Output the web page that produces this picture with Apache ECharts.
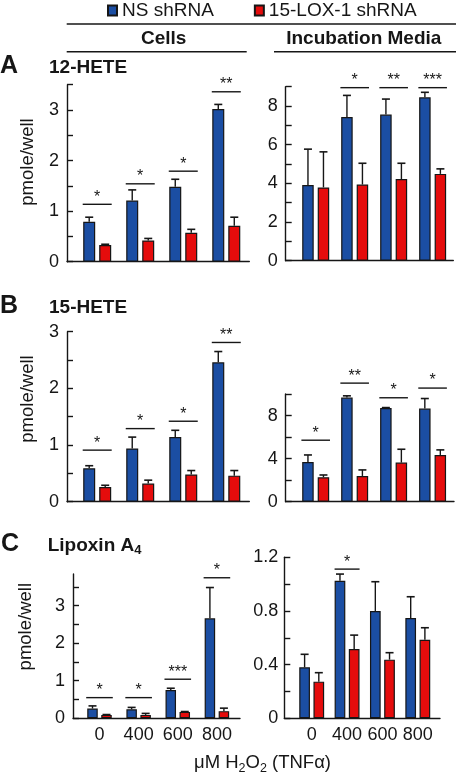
<!DOCTYPE html>
<html><head><meta charset="utf-8">
<script src="https://cdn.jsdelivr.net/npm/echarts@6/dist/echarts.min.js"></script>
<style>html,body{margin:0;padding:0;background:#fff}#c{width:456px;height:774px}</style>
</head><body><div id="c"></div><script>
// ---------------- DATA ----------------
const categories = ['0', '400', '600', '800'];
const seriesNames = ['NS shRNA', '15-LOX-1 shRNA'];

// A: 12-HETE, cells
const hete12CellsNS = [0.79, 1.21, 1.48, 3.02];
const hete12CellsNSErr = [0.09, 0.21, 0.15, 0.09];
const hete12CellsLOX = [0.33, 0.42, 0.57, 0.71];
const hete12CellsLOXErr = [0.015, 0.04, 0.07, 0.17];
const hete12CellsSigY = [1.135, 1.54, 1.79, 3.36];
const hete12CellsSig = ['*', '*', '*', '**'];
// A: 12-HETE, incubation media
const hete12MediaNS = [3.91, 7.43, 7.56, 8.45];
const hete12MediaNSErr = [1.86, 1.12, 0.80, 0.26];
const hete12MediaLOX = [3.79, 3.94, 4.22, 4.49];
const hete12MediaLOXErr = [1.84, 1.10, 0.82, 0.26];
const hete12MediaSigY = [null, 8.95, 8.95, 8.95];
const hete12MediaSig = [null, '*', '**', '***'];

// B: 15-HETE, cells
const hete15CellsNS = [0.59, 0.94, 1.14, 2.46];
const hete15CellsNSErr = [0.045, 0.20, 0.12, 0.19];
const hete15CellsLOX = [0.26, 0.32, 0.48, 0.46];
const hete15CellsLOXErr = [0.03, 0.06, 0.07, 0.09];
const hete15CellsSigY = [0.91, 1.29, 1.42, 2.81];
const hete15CellsSig = ['*', '*', '*', '**'];
// B: 15-HETE, incubation media
const hete15MediaNS = [3.69, 9.67, 8.69, 8.65];
const hete15MediaNSErr = [0.65, 0.16, 0.05, 0.93];
const hete15MediaLOX = [2.27, 2.39, 3.63, 4.34];
const hete15MediaLOXErr = [0.21, 0.56, 1.24, 0.47];
const hete15MediaSigY = [5.71, 11.01, 9.65, 10.55];
const hete15MediaSig = ['*', '**', '*', '*'];

// C: Lipoxin A4, cells
const lxCellsNS = [0.26, 0.24, 0.75, 2.66];
const lxCellsNSErr = [0.07, 0.05, 0.05, 0.82];
const lxCellsLOX = [0.09, 0.09, 0.17, 0.19];
const lxCellsLOXErr = [0.01, 0.04, 0.01, 0.08];
const lxCellsSigY = [0.55, 0.55, 1.04, 3.74];
const lxCellsSig = ['*', '*', '***', '*'];
// C: Lipoxin A4, incubation media
const lxMediaNS = [0.38, 1.025, 0.80, 0.747];
const lxMediaNSErr = [0.097, 0.05, 0.218, 0.159];
const lxMediaLOX = [0.273, 0.516, 0.437, 0.586];
const lxMediaLOXErr = [0.067, 0.104, 0.052, 0.089];
const lxMediaSigY = [null, 1.112, null, null];
const lxMediaSig = [null, '*', null, null];

// tick positions and tick labels
const ticks12Cells = [0, 0.5, 1, 1.5, 2, 2.5, 3, 3.5];
const labels12Cells = [0, 1, 2, 3];
const ticks12Media = [0, 1, 2, 3, 4, 5, 6, 7, 8, 9];
const labels12Media = [0, 2, 4, 6, 8];
const ticks15Cells = [0, 0.5, 1, 1.5, 2, 2.5, 3];
const labels15Cells = [0, 1, 2, 3];
const ticks15Media = [0, 2, 4, 6, 8, 10];
const labels15Media = [0, 4, 8];
const ticksLxCells = [0, 0.5, 1, 1.5, 2, 2.5, 3, 3.5];
const labelsLxCells = [0, 1, 2, 3];
const ticksLxMedia = [0, 0.2, 0.4, 0.6, 0.8, 1.0, 1.2];
const labelsLxMedia = [0, 0.4, 0.8, 1.2];
const categoryIndex = [0, 1, 2, 3];

// ---------------- STYLE / LAYOUT ----------------
const FONT = '"Liberation Sans", Arial, Helvetica, sans-serif';
const INK = '#161616';
const BLUE = '#1b4ea3';
const RED = '#e50c0c';

const panels = [
  {grid: {left: 67, top: 84.7, width: 182.3, height: 177}, xMin: -0.702, xMax: 3.535, yMax: 3.5,
   ticks: ticks12Cells, labels: labels12Cells, barW: 12, gapPx: 4, sigHalf: 14.5, lm: 8, showX: false,
   ns: hete12CellsNS, nsErr: hete12CellsNSErr, lox: hete12CellsLOX, loxErr: hete12CellsLOXErr, sigY: hete12CellsSigY, sig: hete12CellsSig},
  {grid: {left: 285.7, top: 86.7, width: 167.6, height: 174}, xMin: -0.77, xMax: 3.53, yMax: 9,
   ticks: ticks12Media, labels: labels12Media, barW: 11.5, gapPx: 4, sigHalf: 14.3, lm: 8, showX: false,
   ns: hete12MediaNS, nsErr: hete12MediaNSErr, lox: hete12MediaLOX, loxErr: hete12MediaLOXErr, sigY: hete12MediaSigY, sig: hete12MediaSig},
  {grid: {left: 67, top: 331.7, width: 182.3, height: 170}, xMin: -0.702, xMax: 3.535, yMax: 3,
   ticks: ticks15Cells, labels: labels15Cells, barW: 12, gapPx: 4, sigHalf: 14.5, lm: 8, showX: false,
   ns: hete15CellsNS, nsErr: hete15CellsNSErr, lox: hete15CellsLOX, loxErr: hete15CellsLOXErr, sigY: hete15CellsSigY, sig: hete15CellsSig},
  {grid: {left: 285.7, top: 394, width: 168.3, height: 107.7}, xMin: -0.77, xMax: 3.55, yMax: 10,
   ticks: ticks15Media, labels: labels15Media, barW: 11.5, gapPx: 4, sigHalf: 14.3, lm: 8, showX: false,
   ns: hete15MediaNS, nsErr: hete15MediaNSErr, lox: hete15MediaLOX, loxErr: hete15MediaLOXErr, sigY: hete15MediaSigY, sig: hete15MediaSig},
  {grid: {left: 73, top: 574, width: 167, height: 144.3}, xMin: -0.677, xMax: 3.59, yMax: 3.84,
   ticks: ticksLxCells, labels: labelsLxCells, barW: 10.5, gapPx: 3.5, sigHalf: 13.3, lm: 8, showX: true,
   ns: lxCellsNS, nsErr: lxCellsNSErr, lox: lxCellsLOX, loxErr: lxCellsLOXErr, sigY: lxCellsSigY, sig: lxCellsSig},
  {grid: {left: 284.3, top: 557.3, width: 155.7, height: 161}, xMin: -0.775, xMax: 3.628, yMax: 1.2,
   ticks: ticksLxMedia, labels: labelsLxMedia, barW: 10.7, gapPx: 3.5, sigHalf: 12.5, lm: 6, showX: true,
   ns: lxMediaNS, nsErr: lxMediaNSErr, lox: lxMediaLOX, loxErr: lxMediaLOXErr, sigY: lxMediaSigY, sig: lxMediaSig}
];

function errRender(dx) {
  return function (params, api) {
    const i = api.value(0), v = api.value(1), e = api.value(2);
    if (!e) return null;
    const p0 = api.coord([i, v]);
    const p1 = api.coord([i, v + e]);
    const x = p0[0] + dx;
    return {type: 'group', children: [
      {type: 'line', shape: {x1: x, y1: p0[1], x2: x, y2: p1[1]}, style: {stroke: INK, lineWidth: 1.4}},
      {type: 'line', shape: {x1: x - 4, y1: p1[1], x2: x + 4, y2: p1[1]}, style: {stroke: INK, lineWidth: 1.6}}
    ]};
  };
}
function sigRender(half, texts) {
  return function (params, api) {
    const i = api.value(0), y = api.value(1);
    const p = api.coord([i, y]);
    return {type: 'group', children: [
      {type: 'line', shape: {x1: p[0] - half, y1: p[1], x2: p[0] + half, y2: p[1]}, style: {stroke: INK, lineWidth: 1.4}},
      {type: 'text', x: p[0], y: p[1] - 7, style: {text: texts[i], fill: INK, font: '16px ' + FONT, align: 'center', verticalAlign: 'middle'}}
    ]};
  };
}

const grids = [], xAxes = [], yAxes = [], series = [];
panels.forEach(function (P, k) {
  grids.push(Object.assign({outerBoundsMode: 'none', containLabel: false}, P.grid));
  xAxes.push({
    type: 'value', gridIndex: k, min: P.xMin, max: P.xMax,
    axisLine: {show: true, onZero: false, lineStyle: {color: INK, width: 1.4}},
    axisTick: {show: false}, splitLine: {show: false},
    axisLabel: P.showX ? {show: true, customValues: categoryIndex, margin: 8, color: INK, fontSize: 18, fontFamily: FONT,
      formatter: function (v) { return categories[Math.round(v)]; }} : {show: false}
  });
  yAxes.push({
    type: 'value', gridIndex: k, min: 0, max: P.yMax,
    axisLine: {show: true, onZero: false, lineStyle: {color: INK, width: 1.4}},
    axisTick: {show: true, inside: true, length: 6, customValues: P.ticks, lineStyle: {color: INK, width: 1.4}},
    axisLabel: {show: true, customValues: P.labels, margin: P.lm, color: INK, fontSize: 18, fontFamily: FONT},
    splitLine: {show: false}
  });
  const gapPct = (P.gapPx / P.barW * 100) + '%';
  const dx = (P.barW + P.gapPx) / 2;
  series.push({type: 'bar', name: seriesNames[0], xAxisIndex: k, yAxisIndex: k, barWidth: P.barW, barGap: gapPct,
    itemStyle: {color: BLUE, borderColor: INK, borderWidth: 1.2}, data: P.ns.map(function (v, i) { return [i, v]; }), z: 2});
  series.push({type: 'bar', name: seriesNames[1], xAxisIndex: k, yAxisIndex: k, barWidth: P.barW, barGap: gapPct,
    itemStyle: {color: RED, borderColor: INK, borderWidth: 1.2}, data: P.lox.map(function (v, i) { return [i, v]; }), z: 2});
  series.push({type: 'custom', xAxisIndex: k, yAxisIndex: k, clip: false, z: 3, silent: true,
    renderItem: errRender(-dx), data: P.ns.map(function (v, i) { return [i, v, P.nsErr[i]]; })});
  series.push({type: 'custom', xAxisIndex: k, yAxisIndex: k, clip: false, z: 3, silent: true,
    renderItem: errRender(dx), data: P.lox.map(function (v, i) { return [i, v, P.loxErr[i]]; })});
  series.push({type: 'custom', xAxisIndex: k, yAxisIndex: k, clip: false, z: 3, silent: true,
    renderItem: sigRender(P.sigHalf, P.sig),
    data: P.sigY.map(function (y, i) { return y == null ? null : [i, y]; }).filter(function (d) { return d; })});
});

function txt(x, y, text, size, bold, align, extra) {
  return Object.assign({type: 'text', x: x, y: y, style: {text: text, fill: INK, font: (bold ? 'bold ' : '') + size + 'px ' + FONT,
    align: align || 'left', verticalAlign: 'middle'}}, extra || {});
}
function hline(x1, x2, y) {
  return {type: 'line', shape: {x1: x1, y1: y, x2: x2, y2: y}, style: {stroke: INK, lineWidth: 1.4}};
}

const graphics = [
  hline(66.7, 456, 24),
  txt(163.7, 38.5, 'Cells', 19, true, 'center'),
  txt(363.8, 38.5, 'Incubation Media', 19, true, 'center'),
  hline(66.7, 246.7, 51.7),
  hline(274, 456, 51.7),
  txt(0, 66.5, 'A', 25, true),
  txt(49, 68, '12-HETE', 19, true),
  txt(0, 305.8, 'B', 25, true),
  txt(49, 307.3, '15-HETE', 19, true),
  txt(1, 544, 'C', 25, true),
  {type: 'text', x: 47.7, y: 545.4, style: {text: '{m|Lipoxin A}{s|4}', fill: INK, align: 'left', verticalAlign: 'middle',
    rich: {m: {fontSize: 19, fontWeight: 'bold', fontFamily: FONT, lineHeight: 24, verticalAlign: 'middle', fill: INK},
           s: {fontSize: 13, fontWeight: 'bold', fontFamily: FONT, lineHeight: 13, verticalAlign: 'bottom', fill: INK}}}},
  txt(27.5, 162, 'pmole/well', 18.5, false, 'center', {rotation: Math.PI / 2}),
  txt(27.5, 399, 'pmole/well', 18.5, false, 'center', {rotation: Math.PI / 2}),
  txt(26.3, 626.7, 'pmole/well', 18.5, false, 'center', {rotation: Math.PI / 2}),
  {type: 'text', x: 262.5, y: 763.3, style: {text: '{n|\u03bcM H}{s|2}{n|O}{s|2}{n| (TNF\u03b1)}', fill: INK, align: 'center', verticalAlign: 'middle',
    rich: {n: {fontSize: 18.5, fontFamily: FONT, lineHeight: 24, verticalAlign: 'middle', fill: INK},
           s: {fontSize: 12.5, fontFamily: FONT, lineHeight: 12, verticalAlign: 'bottom', fill: INK}}}}
];

const chart = echarts.init(document.getElementById('c'), null, {renderer: 'canvas'});
chart.setOption({
  animation: false,
  backgroundColor: '#fff',
  legend: {data: seriesNames, left: 107, top: 1, padding: 0, itemWidth: 9, itemHeight: 10, itemGap: 40, selectedMode: false,
    icon: 'rect', textStyle: {fontSize: 19, color: INK, fontFamily: FONT}},
  grid: grids, xAxis: xAxes, yAxis: yAxes, series: series,
  graphic: graphics
});
</script></body></html>
